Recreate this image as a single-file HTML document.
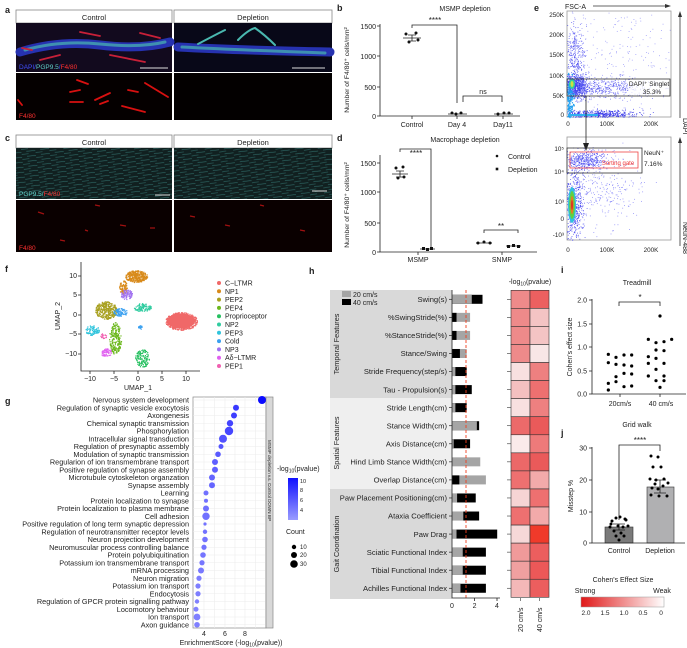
<!DOCTYPE html>
<html><head><meta charset="utf-8"><style>
html,body{margin:0;padding:0;background:#fff;}
svg{display:block;font-family:"Liberation Sans",Arial,sans-serif;}
text{fill:#222;}
</style></head><body>
<svg id="s" width="687" height="648" viewBox="0 0 687 648" xmlns="http://www.w3.org/2000/svg">
<defs>
<linearGradient id="gb" x1="0" y1="1" x2="0" y2="0"><stop offset="0" stop-color="#9a9cff"/><stop offset="1" stop-color="#1010ff"/></linearGradient>
<linearGradient id="gr" x1="0" y1="0" x2="1" y2="0"><stop offset="0" stop-color="#e01818"/><stop offset="1" stop-color="#fff"/></linearGradient>
<pattern id="fib" width="14" height="5" patternUnits="userSpaceOnUse" patternTransform="rotate(-8)">
<rect width="14" height="5" fill="#112020"/><path d="M0 1.2 L7 1 M5 3.6 L14 3.8" stroke="#2f6a67" stroke-width="0.6"/></pattern>
</defs>

<!-- a -->
<text x="5" y="13" font-size="9" font-weight="bold">a</text>
<rect x="16" y="10" width="156" height="13" fill="#fff" stroke="#888" stroke-width="0.8"/>
<rect x="174" y="10" width="158" height="13" fill="#fff" stroke="#888" stroke-width="0.8"/>
<text x="94" y="20" font-size="7.5" text-anchor="middle">Control</text>
<text x="253" y="20" font-size="7.5" text-anchor="middle">Depletion</text>
<rect x="16" y="23" width="156" height="49" fill="#120a1e"/>
<rect x="174" y="23" width="158" height="49" fill="#080818"/>
<g stroke-linecap="round" fill="none">
<path d="M20 52 Q60 40 100 45 T170 42" stroke="#2632b0" stroke-width="9"/>
<path d="M25 50 Q60 40 100 44 T165 42" stroke="#4ab8b0" stroke-width="3" opacity=".7"/>
<path d="M80 32 L100 36 M40 60 L60 55 M110 55 L145 62 M140 33 L160 38 M22 48 L32 50" stroke="#c82038" stroke-width="1.8"/>
<path d="M178 47 Q230 50 330 52" stroke="#2632b0" stroke-width="9"/>
<path d="M182 47 Q240 50 325 53" stroke="#48b8b0" stroke-width="3" opacity=".7"/>
<path d="M198 44 Q215 35 225 30 M238 40 Q248 30 255 28 Q265 35 275 45" stroke="#4ab8b0" stroke-width="2"/>
</g>
<text x="19" y="69" font-size="6.5" style="fill:#4050ff">DAPI/<tspan style="fill:#60d0c8">PGP9.5</tspan>/<tspan style="fill:#ff3030">F4/80</tspan></text>
<line x1="140" y1="68" x2="168" y2="68" stroke="#ddd"/>
<line x1="292" y1="68" x2="325" y2="68" stroke="#ddd"/>
<rect x="16" y="73" width="156" height="47" fill="#050000"/>
<rect x="174" y="73" width="158" height="47" fill="#030000"/>
<g stroke="#d81010" stroke-width="1.8" stroke-linecap="round">
<path d="M77 80 L88 84 M70 92 L80 90 M95 100 L110 93 M128 90 L138 92 M145 83 L168 97 M70 102 L83 102 M122 106 L145 112 M18 100 L22 105 M100 104 L108 101"/>
</g>
<text x="19" y="118" font-size="6.5" style="fill:#ff3030">F4/80</text>

<!-- c -->
<text x="5" y="141" font-size="9" font-weight="bold">c</text>
<rect x="16" y="135" width="156" height="13" fill="#fff" stroke="#888" stroke-width="0.8"/>
<rect x="174" y="135" width="158" height="13" fill="#fff" stroke="#888" stroke-width="0.8"/>
<text x="94" y="145" font-size="7.5" text-anchor="middle">Control</text>
<text x="253" y="145" font-size="7.5" text-anchor="middle">Depletion</text>
<rect x="16" y="148" width="156" height="51" fill="url(#fib)"/>
<rect x="174" y="148" width="158" height="51" fill="url(#fib)"/>
<text x="19" y="196" font-size="6.5" style="fill:#60d0c8">PGP9.5/<tspan style="fill:#ff3030">F4/80</tspan></text>
<line x1="155" y1="195" x2="170" y2="195" stroke="#ddd"/>
<line x1="312" y1="191" x2="327" y2="191" stroke="#ddd"/>
<rect x="16" y="200" width="156" height="52" fill="#0a0000"/>
<rect x="174" y="200" width="158" height="52" fill="#0a0000"/>
<g stroke="#a01010" stroke-width="1.2"><path d="M38 212 L44 214 M95 205 L100 206 M120 225 L126 226 M150 228 L155 228 M60 240 L65 241 M190 216 L195 217 M225 225 L230 226 M260 205 L264 206 M300 230 L305 231 M85 230 L88 231"/></g>
<text x="19" y="250" font-size="6.5" style="fill:#ff3030">F4/80</text>

<!-- b -->
<text x="337" y="11" font-size="9" font-weight="bold">b</text>
<text x="465" y="11" font-size="7" text-anchor="middle">MSMP depletion</text>
<g stroke="#222" stroke-width="0.8" fill="none">
<path d="M380 24 V116 H520"/>
<path d="M377 26 H380 M377 56 H380 M377 87 H380 M377 116 H380"/>
<path d="M412 116 V119 M457 116 V119 M503 116 V119"/>
<path d="M412 28 V25 H457 V103"/>
<path d="M463 102 V96 H502 V102"/>
<path d="M403 38 H421 M412 35 V41 M408 35 H416 M408 41 H416"/>
<path d="M448 114 H467 M494 114 H513"/>
</g>
<g fill="#111"><circle cx="406" cy="34" r="1.5"/><circle cx="416" cy="33" r="1.5"/><circle cx="409" cy="42" r="1.5"/><circle cx="418" cy="40" r="1.5"/>
<circle cx="452" cy="113" r="1.5"/><circle cx="456" cy="114" r="1.5"/><circle cx="461" cy="113" r="1.5"/><circle cx="498" cy="114" r="1.5"/><circle cx="504" cy="113" r="1.5"/><circle cx="509" cy="113" r="1.5"/></g>
<text x="435" y="23" font-size="8" text-anchor="middle">****</text>
<text x="483" y="94" font-size="7" text-anchor="middle">ns</text>
<g font-size="7" text-anchor="end"><text x="376" y="29">1500</text><text x="376" y="59">1000</text><text x="376" y="90">500</text><text x="376" y="119">0</text></g>
<g font-size="7" text-anchor="middle"><text x="412" y="127">Control</text><text x="457" y="127">Day 4</text><text x="503" y="127">Day11</text></g>
<text transform="translate(349,70) rotate(-90)" font-size="6.8" text-anchor="middle">Number of F4/80⁺ cells/mm²</text>

<!-- d -->
<text x="337" y="141" font-size="9" font-weight="bold">d</text>
<text x="465" y="142" font-size="7" text-anchor="middle">Macrophage depletion</text>
<g stroke="#222" stroke-width="0.8" fill="none">
<path d="M380 155 V252 H537"/>
<path d="M377 163 H380 M377 192 H380 M377 223 H380 M377 252 H380"/>
<path d="M418 252 V255 M502 252 V255"/>
<path d="M400 152 V149 H431 V247"/>
<path d="M484 233 V230 H518 V233"/>
<path d="M392 174 H408 M400 171 V177 M396 171 H404 M396 177 H404"/>
<path d="M420 249 H435 M476 243 H492 M506 246 H521"/>
</g>
<g fill="#111"><circle cx="396" cy="168" r="1.5"/><circle cx="403" cy="167" r="1.5"/><circle cx="398" cy="178" r="1.5"/><circle cx="404" cy="177" r="1.5"/>
<rect x="422" y="247" width="3" height="3"/><rect x="426" y="248" width="3" height="3"/><rect x="430" y="247" width="3" height="3"/>
<circle cx="478" cy="243" r="1.5"/><circle cx="484" cy="242" r="1.5"/><circle cx="490" cy="243" r="1.5"/>
<rect x="507" y="245" width="3" height="3"/><rect x="512" y="244" width="3" height="3"/><rect x="517" y="245" width="3" height="3"/>
<circle cx="497" cy="156" r="1.3"/><rect x="495.7" y="167.7" width="2.6" height="2.6"/></g>
<text x="508" y="159" font-size="7">Control</text><text x="508" y="172" font-size="7">Depletion</text>
<text x="416" y="156" font-size="8" text-anchor="middle">****</text>
<text x="501" y="229" font-size="8" text-anchor="middle">**</text>
<g font-size="7" text-anchor="end"><text x="376" y="166">1500</text><text x="376" y="195">1000</text><text x="376" y="226">500</text><text x="376" y="255">0</text></g>
<g font-size="7" text-anchor="middle"><text x="418" y="262">MSMP</text><text x="502" y="262">SNMP</text></g>
<text transform="translate(349,205) rotate(-90)" font-size="6.8" text-anchor="middle">Number of F4/80⁺ cells/mm²</text>

<!-- e -->
<text x="534" y="11" font-size="9" font-weight="bold">e</text>
<text x="565" y="9" font-size="7">FSC-A</text>
<path d="M593 6 H668" stroke="#333" stroke-width="0.8"/><path d="M671 6 L665 4 L665 8Z" fill="#333"/>
<path d="M680 118 V14" stroke="#333" stroke-width="0.8"/><path d="M680 11 L678 17 H682Z" fill="#333"/>
<text transform="translate(683,118) rotate(90)" font-size="7">DAPI</text>
<path d="M680 246 V140" stroke="#333" stroke-width="0.8"/><path d="M680 137 L678 143 H682Z" fill="#333"/>
<text transform="translate(683,222) rotate(90)" font-size="7">NeuN-488</text>
<rect x="567" y="11" width="104" height="106" fill="#fff" stroke="#999" stroke-width="0.8"/>
<rect x="567" y="137" width="104" height="103" fill="#fff" stroke="#999" stroke-width="0.8"/>
<g id="flow"></g>
<g font-size="6.3" text-anchor="end"><text x="564" y="17">250K</text><text x="564" y="37">200K</text><text x="564" y="57">150K</text><text x="564" y="78">100K</text><text x="564" y="98">50K</text><text x="564" y="117">0</text>
<text x="564" y="151">10⁵</text><text x="564" y="174">10⁴</text><text x="564" y="204">10³</text><text x="564" y="221">0</text><text x="564" y="237">-10³</text></g>
<g font-size="6.3" text-anchor="middle"><text x="568" y="126">0</text><text x="607" y="126">100K</text><text x="651" y="126">200K</text><text x="568" y="252">0</text><text x="607" y="252">100K</text><text x="651" y="252">200K</text></g>
<rect x="567" y="79" width="103" height="17" fill="none" stroke="#333" stroke-width="0.8"/>
<rect x="630" y="80" width="39" height="15" fill="#fff" opacity=".7"/>
<text x="649" y="86" font-size="6.5" text-anchor="middle">DAPI⁺ Singlet</text>
<text x="652" y="94" font-size="6.5" text-anchor="middle">35.3%</text>
<path d="M586 96 V147" stroke="#222" stroke-width="0.8"/><path d="M586 151 L583 143 H589Z" fill="#222"/>
<rect x="567" y="148" width="75" height="25" fill="none" stroke="#333" stroke-width="0.8"/>
<rect x="570" y="152" width="68" height="16" fill="none" stroke="#ee4444" stroke-width="0.8"/>
<text x="618" y="165" font-size="6" text-anchor="middle" style="fill:#ee3030">Sorting gate</text>
<text x="644" y="155" font-size="6.5">NeuN⁺</text><text x="644" y="166" font-size="6.5">7.16%</text>

<!-- f -->
<text x="5" y="272" font-size="9" font-weight="bold">f</text>
<g id="umap"></g>
<g stroke="#222" stroke-width="0.8" fill="none"><path d="M81 262 V371 H200"/>
<path d="M78 276 H81 M78 295 H81 M78 315 H81 M78 334 H81 M78 354 H81 M90 371 V374 M114 371 V374 M138 371 V374 M162 371 V374 M186 371 V374"/></g>
<g font-size="7" text-anchor="end"><text x="77" y="278">10</text><text x="77" y="297">5</text><text x="77" y="317">0</text><text x="77" y="336">−5</text><text x="77" y="356">−10</text></g>
<g font-size="7" text-anchor="middle"><text x="90" y="381">−10</text><text x="114" y="381">−5</text><text x="138" y="381">0</text><text x="162" y="381">5</text><text x="186" y="381">10</text></g>
<text x="138" y="390" font-size="7" text-anchor="middle">UMAP_1</text>
<text transform="translate(60,316) rotate(-90)" font-size="7" text-anchor="middle">UMAP_2</text>
<g font-size="7">
<circle cx="219" cy="283" r="2" fill="#f06868"/><text x="225" y="285.5">C−LTMR</text>
<circle cx="219" cy="291.3" r="2" fill="#d88a1a"/><text x="225" y="293.8">NP1</text>
<circle cx="219" cy="299.6" r="2" fill="#a8a020"/><text x="225" y="302.1">PEP2</text>
<circle cx="219" cy="307.9" r="2" fill="#6cb81e"/><text x="225" y="310.4">PEP4</text>
<circle cx="219" cy="316.2" r="2" fill="#26c060"/><text x="225" y="318.7">Proprioceptor</text>
<circle cx="219" cy="324.5" r="2" fill="#30cca0"/><text x="225" y="327">NP2</text>
<circle cx="219" cy="332.8" r="2" fill="#30c4dc"/><text x="225" y="335.3">PEP3</text>
<circle cx="219" cy="341.1" r="2" fill="#3aa0f0"/><text x="225" y="343.6">Cold</text>
<circle cx="219" cy="349.4" r="2" fill="#a070f0"/><text x="225" y="351.9">NP3</text>
<circle cx="219" cy="357.7" r="2" fill="#e060f0"/><text x="225" y="360.2">Aδ−LTMR</text>
<circle cx="219" cy="366" r="2" fill="#f060b0"/><text x="225" y="368.5">PEP1</text>
</g>

<!-- g -->
<text x="5" y="404" font-size="9" font-weight="bold">g</text>
<rect x="193" y="397" width="73" height="231" fill="#fff" stroke="#888" stroke-width="0.7"/>
<g id="ggrid" stroke="#ececec" stroke-width="0.6"></g>
<rect x="266" y="397" width="7" height="231" fill="#d8d8d8" stroke="#888" stroke-width="0.7"/>
<text transform="translate(268,440) rotate(90)" font-size="4.6">MSMP depletion v.s. Control DOWN BP</text>
<g id="gdots"></g>
<g font-size="7.3" text-anchor="end">
<text x="189" y="402.5">Nervous system development</text>
<text x="189" y="410.3">Regulation of synaptic vesicle exocytosis</text>
<text x="189" y="418">Axongenesis</text>
<text x="189" y="425.8">Chemical synaptic transmission</text>
<text x="189" y="433.5">Phosphorylation</text>
<text x="189" y="441.3">Intracellular signal transduction</text>
<text x="189" y="449">Regulation of presynaptic assembly</text>
<text x="189" y="456.8">Modulation of synaptic transmission</text>
<text x="189" y="464.5">Regularion of ion transmembrane transport</text>
<text x="189" y="472.3">Positive regulation of synapse assembly</text>
<text x="189" y="480">Microtubule cytoskeleton organzation</text>
<text x="189" y="487.8">Synapse assembly</text>
<text x="189" y="495.5">Learning</text>
<text x="189" y="503.3">Protein localization to synapse</text>
<text x="189" y="511">Protein localization to plasma membrane</text>
<text x="189" y="518.8">Cell adhesion</text>
<text x="189" y="526.5">Positive regulation of long term synaptic depression</text>
<text x="189" y="534.3">Regulation of neurotransmitter receptor levels</text>
<text x="189" y="542">Neuron projection development</text>
<text x="189" y="549.8">Neuromuscular process controlling balance</text>
<text x="189" y="557.5">Protein polyubiquitination</text>
<text x="189" y="565.3">Potassium ion transmembrane transport</text>
<text x="189" y="573">mRNA processing</text>
<text x="189" y="580.8">Neuron migration</text>
<text x="189" y="588.5">Potassium ion transport</text>
<text x="189" y="596.3">Endocytosis</text>
<text x="189" y="604">Regulation of GPCR protein signalling pathway</text>
<text x="189" y="611.8">Locomotory behaviour</text>
<text x="189" y="619.5">Ion transport</text>
<text x="189" y="627.3">Axon guidance</text>
</g>
<g font-size="7" text-anchor="middle"><text x="204" y="636">4</text><text x="225" y="636">6</text><text x="245" y="636">8</text></g>
<text x="231" y="645" font-size="7" text-anchor="middle">EnrichmentScore (-log<tspan font-size="5" dy="1.5">10</tspan><tspan dy="-1.5">(pvalue))</tspan></text>
<text x="277" y="471" font-size="7">-log<tspan font-size="5" dy="1.5">10</tspan><tspan dy="-1.5">(pvalue)</tspan></text>
<rect x="288" y="478" width="10" height="42" fill="url(#gb)"/>
<g font-size="5.5"><text x="300" y="483">10</text><text x="300" y="492">8</text><text x="300" y="502">6</text><text x="300" y="512">4</text></g>
<text x="286" y="534" font-size="7">Count</text>
<circle cx="294" cy="547" r="2.2" fill="#000"/><circle cx="294" cy="555" r="3" fill="#000"/><circle cx="294" cy="564" r="3.8" fill="#000"/>
<g font-size="6"><text x="300" y="549">10</text><text x="300" y="557">20</text><text x="300" y="566">30</text></g>

<!-- h -->
<text x="309" y="274" font-size="9" font-weight="bold">h</text>
<rect x="330" y="290" width="122" height="108" fill="#d9d9d9"/>
<rect x="330" y="398" width="122" height="91" fill="#efefef"/>
<rect x="330" y="489" width="122" height="110" fill="#d9d9d9"/>
<rect x="342" y="291" width="9" height="6" fill="#a5a5a5"/><rect x="342" y="299" width="9" height="6" fill="#000"/>
<text x="353" y="297" font-size="7">20 cm/s</text><text x="353" y="305" font-size="7">40 cm/s</text>
<text transform="translate(339,344) rotate(-90)" font-size="7.3" text-anchor="middle">Temporal Features</text>
<text transform="translate(339,443) rotate(-90)" font-size="7.3" text-anchor="middle">Spatial Features</text>
<text transform="translate(339,544) rotate(-90)" font-size="7.3" text-anchor="middle">Gait Coordination</text>
<g id="hbars"></g>
<g font-size="7.6" text-anchor="end">
<text x="447" y="302">Swing(s)</text>
<text x="447" y="320">%SwingStride(%)</text>
<text x="447" y="338.1">%StanceStride(%)</text>
<text x="447" y="356.2">Stance/Swing</text>
<text x="447" y="374.2">Stride Frequency(step/s)</text>
<text x="447" y="392.3">Tau - Propulsion(s)</text>
<text x="447" y="410.4">Stride Length(cm)</text>
<text x="447" y="428.4">Stance Width(cm)</text>
<text x="447" y="446.5">Axis Distance(cm)</text>
<text x="447" y="464.5">Hind Limb Stance Width(cm)</text>
<text x="447" y="482.6">Overlap Distance(cm)</text>
<text x="447" y="500.7">Paw Placement Positioning(cm)</text>
<text x="447" y="518.7">Ataxia Coefficient</text>
<text x="447" y="536.8">Paw Drag</text>
<text x="447" y="554.8">Sciatic Functional Index</text>
<text x="447" y="572.9">Tibial Functional Index</text>
<text x="447" y="591">Achilles Functional Index</text>
</g>
<line x1="466" y1="290" x2="466" y2="598" stroke="#f04020" stroke-width="0.9" stroke-dasharray="3,2"/>
<path d="M452 290 V598 H500 M474.6 598 V601 M497 598 V601" stroke="#222" stroke-width="0.8" fill="none"/>
<g font-size="7" text-anchor="middle"><text x="452" y="608">0</text><text x="474.6" y="608">2</text><text x="497" y="608">4</text></g>
<text x="530" y="284" font-size="7" text-anchor="middle">-log<tspan font-size="5" dy="1.5">10</tspan><tspan dy="-1.5">(pvalue)</tspan></text>
<g id="heat"></g>
<text transform="translate(523,632) rotate(-90)" font-size="7">20 cm/s</text>
<text transform="translate(542,632) rotate(-90)" font-size="7">40 cm/s</text>

<!-- i -->
<text x="561" y="273" font-size="9" font-weight="bold">i</text>
<text x="637" y="285" font-size="7" text-anchor="middle">Treadmill</text>
<g stroke="#222" stroke-width="0.8" fill="none"><path d="M592 299 V394 H686"/>
<path d="M589 300 H592 M589 324 H592 M589 347 H592 M589 371 H592 M589 394 H592 M620 394 V397 M660 394 V397"/>
<path d="M619 306 V302 H660 V306"/></g>
<text x="640" y="300" font-size="8" text-anchor="middle">*</text>
<g font-size="7" text-anchor="end"><text x="587" y="302.5">2.0</text><text x="587" y="326.5">1.5</text><text x="587" y="349.5">1.0</text><text x="587" y="373.5">0.5</text><text x="587" y="396.5">0.0</text></g>
<g font-size="7" text-anchor="middle"><text x="620" y="406">20cm/s</text><text x="661" y="406">40 cm/s</text></g>
<text transform="translate(572,347) rotate(-90)" font-size="7" text-anchor="middle">Cohen's effect size</text>
<g id="idots" fill="#000"></g>

<!-- j -->
<text x="561" y="436" font-size="9" font-weight="bold">j</text>
<text x="637" y="427" font-size="7" text-anchor="middle">Grid walk</text>
<rect x="605" y="527" width="28" height="16" fill="#7a7a7a" stroke="#333" stroke-width="0.6"/>
<rect x="647" y="487" width="27" height="56" fill="#b0b0b2" stroke="#333" stroke-width="0.6"/>
<g stroke="#222" stroke-width="0.8" fill="none"><path d="M592 447 V543 H685"/>
<path d="M589 448 H592 M589 480 H592 M589 512 H592 M589 543 H592"/>
<path d="M619 520 V445 H660 V451"/>
<path d="M660 480 V493 M654 480 H666 M654 493 H666 M619 524 V530 M613 524 H625 M613 530 H625"/></g>
<text x="640" y="443" font-size="8" text-anchor="middle">****</text>
<g font-size="7" text-anchor="end"><text x="587" y="450.5">30</text><text x="587" y="482.5">20</text><text x="587" y="514.5">10</text><text x="587" y="545.5">0</text></g>
<g font-size="7" text-anchor="middle"><text x="619" y="553">Control</text><text x="660" y="553">Depletion</text></g>
<text transform="translate(573,496) rotate(-90)" font-size="7" text-anchor="middle">Misstep %</text>
<g id="jdots" fill="#000"></g>

<text x="623" y="582" font-size="7" text-anchor="middle">Cohen's Effect Size</text>
<text x="585" y="593" font-size="7" text-anchor="middle">Strong</text>
<text x="662" y="593" font-size="7" text-anchor="middle">Weak</text>
<rect x="581" y="597" width="83" height="10" fill="url(#gr)" stroke="#999" stroke-width="0.5"/>
<g font-size="6.5" text-anchor="middle"><text x="586" y="615">2.0</text><text x="605" y="615">1.5</text><text x="624" y="615">1.0</text><text x="643" y="615">0.5</text><text x="661" y="615">0</text></g>
</svg>
<script>
var NS="http://www.w3.org/2000/svg";
function el(p,t,a){var e=document.createElementNS(NS,t);for(var k in a)e.setAttribute(k,a[k]);p.appendChild(e);return e;}
var seed=7;function R(){seed=(seed*16807)%2147483647;return (seed-1)/2147483646;}
function G(){return (R()+R()+R()-1.5)/0.5;}
var f=document.getElementById('flow');
function dots(n,cx,cy,sx,sy,col,x0,x1,y0,y1,r){for(var i=0;i<n;i++){var x=cx+G()*sx,y=cy+G()*sy;if(x<x0||x>x1||y<y0||y>y1)continue;el(f,'rect',{x:x,y:y,width:r||0.8,height:r||0.8,fill:col});}}
dots(700,575,86,6,6,'#3a3cf0',567,671,11,117);
dots(500,600,88,25,5,'#6060f0',567,671,11,117);
dots(300,575,55,5,15,'#5050f0',567,671,11,117);
dots(500,595,114,22,2,'#3030e8',567,671,11,117);
dots(350,620,60,40,40,'#9090f8',567,671,11,117);
dots(200,569,100,2,12,'#20a0f0',567,671,11,117,1.2);
el(f,'ellipse',{cx:572,cy:84,rx:3,ry:5,fill:'#30d0a0'});el(f,'ellipse',{cx:572,cy:84,rx:1.5,ry:3,fill:'#d0e040'});
el(f,'rect',{x:568,y:114,width:30,height:2,fill:'#30b0f0'});
dots(400,585,160,10,5,'#5050f0',567,671,137,240);
dots(500,574,205,5,18,'#4040f0',567,671,137,240);
dots(300,600,190,20,18,'#8080f8',567,671,137,240);
el(f,'ellipse',{cx:572,cy:205,rx:4,ry:18,fill:'#30c0e0'});
el(f,'ellipse',{cx:572,cy:205,rx:2.8,ry:14,fill:'#60d040'});
el(f,'ellipse',{cx:572,cy:205,rx:1.6,ry:9,fill:'#e08020'});
el(f,'ellipse',{cx:572,cy:205,rx:0.8,ry:5,fill:'#e02020'});
var u=document.getElementById('umap');
function cl(n,cx,cy,rx,ry,col){for(var i=0;i<n;i++){var a=R()*6.283,r=Math.sqrt(R());el(u,'rect',{x:cx+Math.cos(a)*rx*r,y:cy+Math.sin(a)*ry*r,width:1.2,height:1.2,fill:col});}}
cl(500,181,321,16,9,'#f06868');el(u,'ellipse',{cx:181,cy:321,rx:14,ry:7.5,fill:'#f06868'});
cl(300,136,276,11,6,'#d88a1a');cl(80,123,287,4,7,'#d88a1a');
cl(80,126,294,6,5,'#a070f0');
cl(300,106,310,11,9,'#a8a020');
cl(80,120,312,7,4,'#3aa0f0');cl(20,140,327,2,2,'#3aa0f0');
cl(100,142,307,9,4,'#30cca0');
cl(80,92,330,7,5,'#30c4dc');
cl(200,115,338,6,16,'#6cb81e');
cl(20,103,336,3,3,'#f060b0');
cl(60,106,352,6,4,'#e060f0');
cl(120,142,358,7,9,'#26c060');
var gg=document.getElementById('ggrid');
[204,225,245,214.5,235,255.5].forEach(function(x){el(gg,'line',{x1:x,y1:397,x2:x,y2:628});});
for(var i=0;i<30;i++){el(gg,'line',{x1:193,y1:400+i*7.75,x2:266,y2:400+i*7.75});}
var gx=[262,236,234,230,229,223,221,218,215,215,212,212,206,206,206,206,205,205,205,204,203,202,201,199,198,198,197,196,197,197];
var gr=[4,3,3,3.2,4.2,4,2.5,2.8,3,3,3,3,2.5,2,3,3.7,1.6,2.2,2.8,2.6,2.8,2.6,3,2.6,2.6,2.6,2.2,2.5,3.4,2.8];
var gd=document.getElementById('gdots');
for(var i=0;i<30;i++){var t=Math.max(0,(gx[i]-196)/66);var c='rgb('+Math.round(130-120*t)+','+Math.round(130-120*t)+',255)';el(gd,'circle',{cx:gx[i],cy:400+i*7.75,r:gr[i],fill:c});}
var hb=document.getElementById('hbars');
var B=[[1.75,2.7],[1.6,0.4],[1.6,0.4],[1.3,0.7],[0.3,1.3],[0.3,1.75],[0.3,1.3],[2.2,2.4],[0.15,1.6],[2.5,0],[3.0,0.65],[0.45,2.1],[1.0,2.4],[0.4,4.0],[0.95,3.0],[0.95,3.0],[0.75,3.0]];
var S=11.3;
for(var i=0;i<17;i++){var y=299.3+i*18.06;var g=B[i][0],b=B[i][1];
 if(i==0){el(hb,'rect',{x:452,y:y-4.5,width:b*S,height:9,fill:'#000'});el(hb,'rect',{x:452,y:y-4.5,width:g*S,height:9,fill:'#a5a5a5'});}
 else if(g>=b){el(hb,'rect',{x:452,y:y-4.5,width:g*S,height:9,fill:'#a5a5a5'});el(hb,'rect',{x:452,y:y-4.5,width:b*S,height:9,fill:'#000'});}
 else{el(hb,'rect',{x:452,y:y-4.5,width:b*S,height:9,fill:'#000'});el(hb,'rect',{x:452,y:y-4.5,width:g*S,height:9,fill:'#a5a5a5'});}
 el(hb,'line',{x1:449,y1:y,x2:452,y2:y,stroke:'#222','stroke-width':0.7});
}
var H=[['#ee8a8a','#ec6060'],['#ee8a8a','#f4c4c4'],['#ee8a8a','#f4c4c4'],['#ee8a8a','#f8e6e6'],['#f8e0e0','#ee8080'],['#f4c0c0','#ee7070'],['#f8e0e0','#ee8080'],['#ec6a6a','#ea5a5a'],['#faeaea','#ee7a7a'],['#ec6868','#ea5a5a'],['#ee7070','#f2aaaa'],['#f6d4d4','#ee7070'],['#ee7070','#f2aaaa'],['#f6d8d8','#f03a2a'],['#f09a9a','#ec5e5e'],['#f0a0a0','#ec5858'],['#f4b8b8','#ec5e5e']];
var hm=document.getElementById('heat');
for(var i=0;i<17;i++){var y=290.3+i*18.06;el(hm,'rect',{x:511,y:y,width:19,height:18.06,fill:H[i][0],stroke:'#333','stroke-width':0.6});el(hm,'rect',{x:530,y:y,width:19,height:18.06,fill:H[i][1],stroke:'#333','stroke-width':0.6});el(hm,'line',{x1:507,y1:y+9,x2:511,y2:y+9,stroke:'#333','stroke-width':0.6});}
el(hm,'line',{x1:520.5,y1:598,x2:520.5,y2:601,stroke:'#333','stroke-width':0.6});el(hm,'line',{x1:539.5,y1:598,x2:539.5,y2:601,stroke:'#333','stroke-width':0.6});
var id=document.getElementById('idots');
var P=[[835,313],[858,322],[882,315],[905,315],[835,338],[858,343],[882,345],[905,348],[858,380],[882,370],[905,372],[835,400],[882,410],[905,408],[835,420],[858,395],
[990,198],[955,268],[978,278],[1002,275],[1025,268],[978,300],[1002,302],[955,320],[978,325],[1002,340],[955,340],[978,358],[955,378],[1002,378],[978,392],[1002,392],[990,412]];
P.forEach(function(p){el(id,'circle',{cx:p[0]/3+330,cy:p[1]/3+250,r:1.6});});
var jd=document.getElementById('jdots');
var Q=[[612,521],[616,518],[620,517],[625,519],[610,527],[618,526],[623,527],[628,526],[614,531],[621,533],[616,536],[624,536],[619,540],[626,520],[611,524],
[651,456],[658,457],[653,467],[661,467],[650,479],[656,480],[664,479],[668,483],[652,488],[658,489],[663,486],[651,495],[659,496],[667,496],[655,484]];
Q.forEach(function(p){el(jd,'circle',{cx:p[0],cy:p[1],r:1.5});});
</script>
</body></html>
